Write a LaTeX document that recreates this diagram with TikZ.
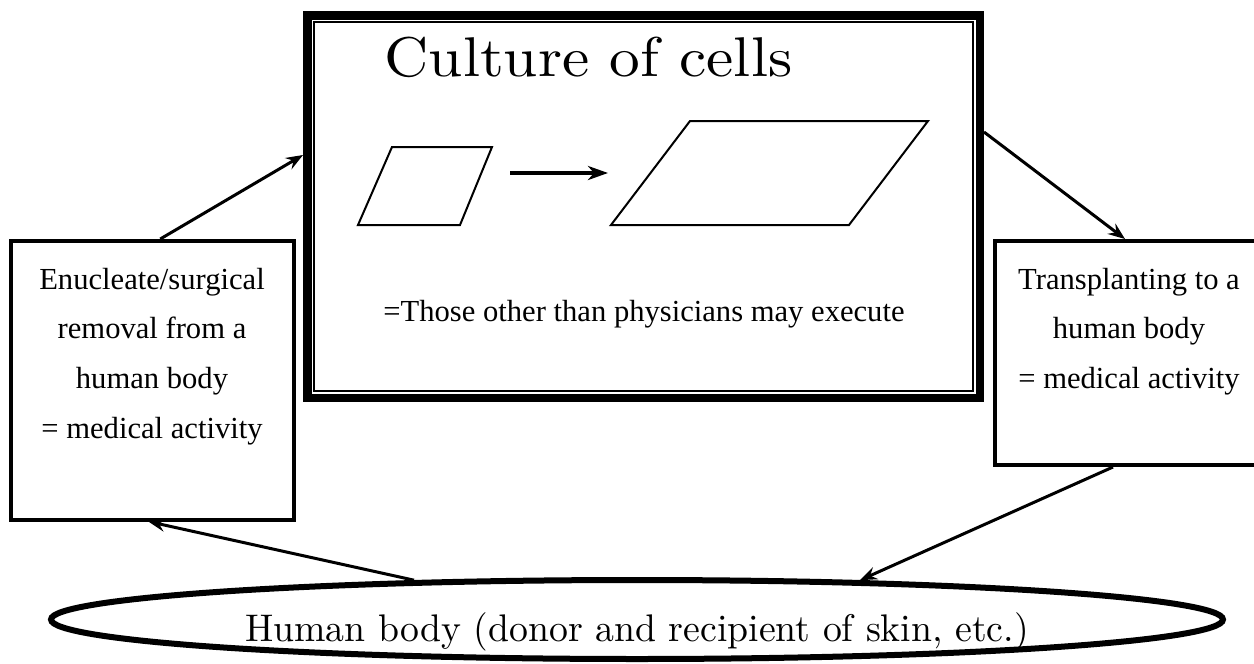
\documentclass[tikz,border=0pt]{standalone}
\usepackage{fontspec}
\newfontfamily\tnr{Liberation Serif}
\newfontfamily\lmtitle{lmroman10-regular}[Extension=.otf,FakeStretch=1.095]
\newfontfamily\lmbody{lmroman10-regular}[Extension=.otf,FakeStretch=0.98]
\usetikzlibrary{arrows.meta,shapes.geometric}
\begin{document}
\begin{tikzpicture}[x=1pt,y=-1pt,
  box/.style={draw,line width=4pt,rectangle,inner sep=0pt},
  tnrtext/.style={font=\tnr\fontsize{30.6}{49.7}\selectfont,inner sep=0pt,anchor=base},
  conn/.style={line width=3pt,-{Stealth[length=17pt,width=13pt,inset=6pt]}},
  growth/.style={line width=3.5pt,-{Stealth[length=20pt,width=14pt,inset=6pt]}},
  cell/.style={line width=2pt,line join=miter}]
\useasboundingbox (0,0) rectangle (1254,664);
% main box
\node[draw,line width=8.5pt,minimum width=672.5pt,minimum height=382.5pt,inner sep=0pt] (main) at (643.5,206.5) {};
\draw[line width=1.8pt] ([shift={(10.8,10.8)}]main.north west) rectangle ([shift={(-10.8,-10.8)}]main.south east);
\node[font=\lmtitle\fontsize{56}{64}\selectfont,inner sep=0pt,anchor=base] (ctitle) at (588.5,76) {Culture of cells};
\node[tnrtext] (cnote) at (644,321) {=Those other than physicians may execute};
% cells
\draw[cell] (392,147) -- (492,147) -- (460,225) -- (358,225) -- cycle;
\draw[cell] (690,121) -- (928,121) -- (849,225) -- (611,225) -- cycle;
\coordinate (gs) at (510,173);
\coordinate (ge) at (608,173);
\draw[growth] (gs) -- (ge);
% side boxes
\node[box,minimum width=283.5pt,minimum height=278.5pt] (lbox) at (152.25,380.25) {};
\node[tnrtext] (ltext) at (152,289) {\begin{tabular}[t]{@{}c@{}}Enucleate/surgical\\removal from a\\human body\\= medical activity\end{tabular}};
\node[box,minimum width=263pt,minimum height=224pt] (rbox) at (1126.5,353) {};
\node[tnrtext] (rtext) at (1129,289) {\begin{tabular}[t]{@{}c@{}}Transplanting to a\\human body\\= medical activity\end{tabular}};
% ellipse
\node[ellipse,draw,line width=6pt,minimum width=1172pt,minimum height=79pt,inner sep=0pt] (ell) at (637,619.5) {};
\node[font=\lmbody\fontsize{38.5}{45}\selectfont,inner sep=0pt,anchor=base] (htext) at (637,641) {Human body (donor and recipient of skin, etc.)};
% connectors
\draw[conn] ([xshift=8pt]lbox.north) -- ([yshift=51.5pt]main.west);
\draw[conn] ([yshift=74.5pt]main.east) -- ([xshift=-1.5pt]rbox.north);
\draw[conn] ([xshift=-13.5pt]rbox.south) -- (ell.10);
\draw[conn] (ell.170) -- ([xshift=-4pt]lbox.south);
\end{tikzpicture}
\end{document}
